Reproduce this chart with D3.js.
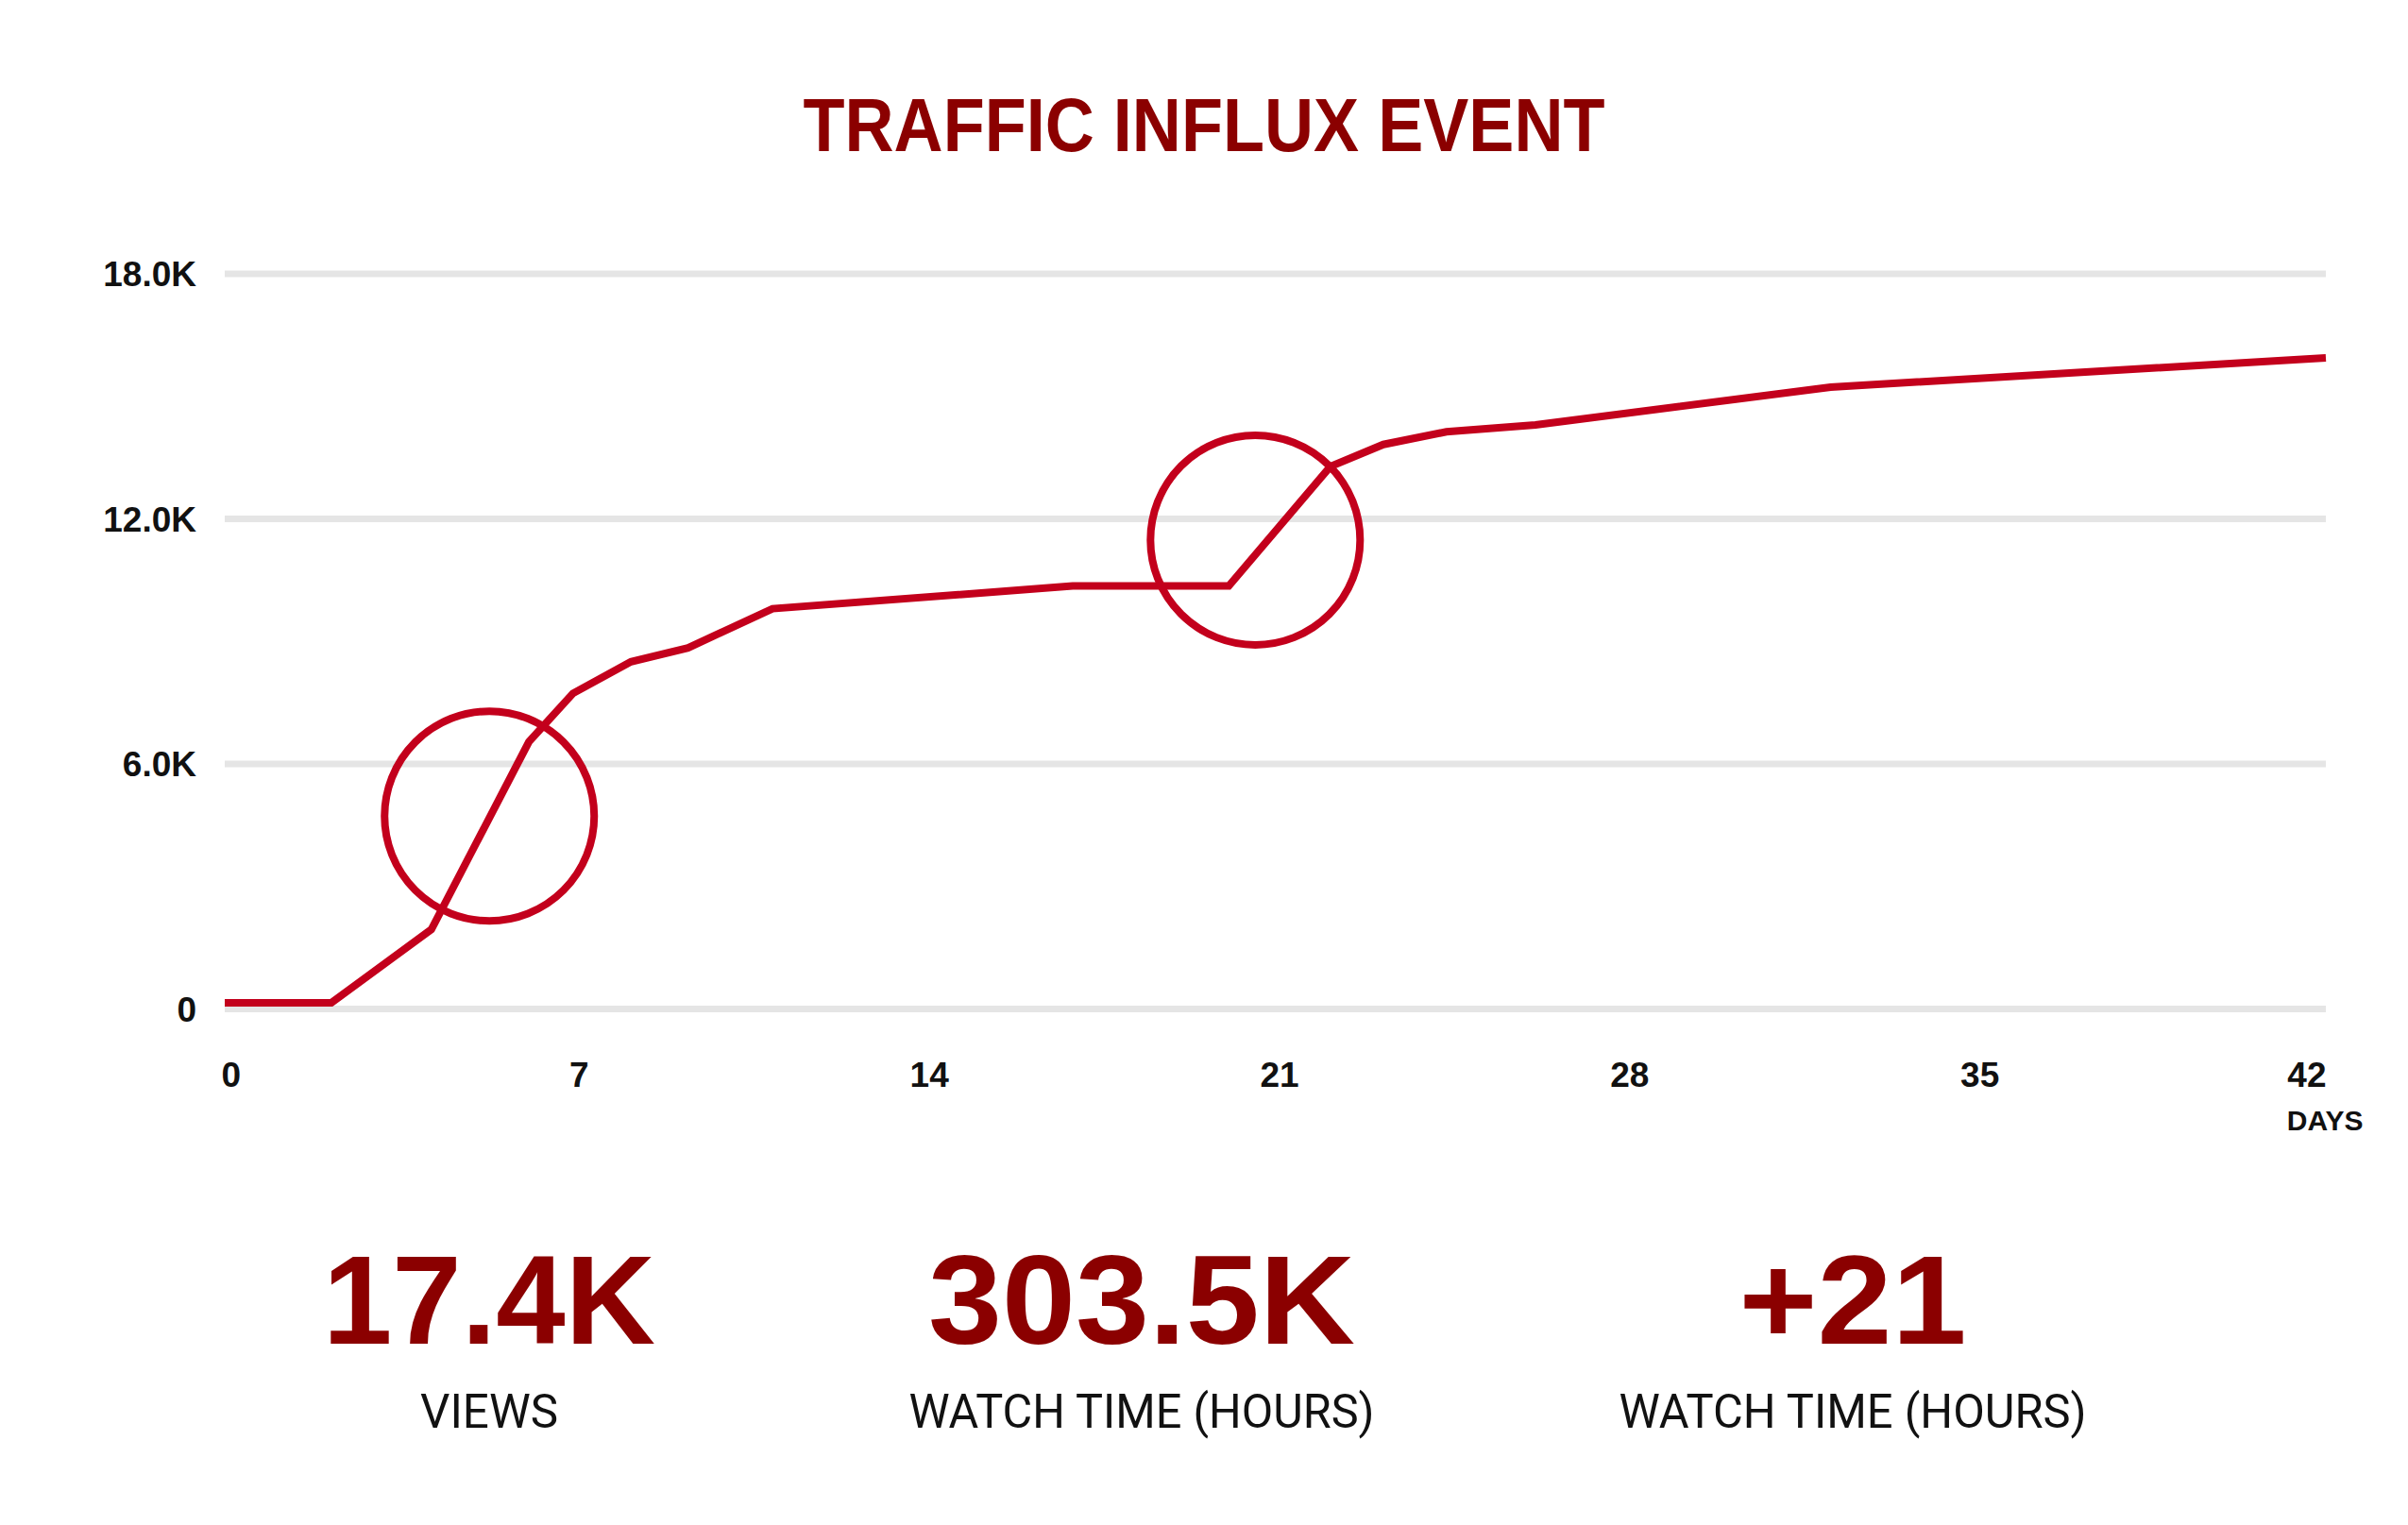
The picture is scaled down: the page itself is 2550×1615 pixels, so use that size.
<!DOCTYPE html>
<html>
<head>
<meta charset="utf-8">
<title>Traffic Influx Event</title>
<script src="https://cdn.jsdelivr.net/npm/d3@7"></script>
<style>
  html, body { margin: 0; padding: 0; background: #fff; }
  svg { display: block; }
  .tick text { font-family: "Liberation Sans", Arial, sans-serif; font-weight: 700; fill: #111; }
</style>
</head>
<body>
<svg id="chart" width="2550" height="1615"></svg>
<script>
// Cumulative views by day
const days = [0, 2.13, 4.13, 6.08, 6.96, 8.12, 9.26, 10.95, 16.95, 20.07, 22.1, 23.16, 24.42, 26.2, 32.1, 42];
const views = [140, 140, 1935, 6530, 7715, 8490, 8830, 9790, 10345, 10345, 13270, 13810, 14120, 14290, 15215, 15930];

// Highlight circles (day, views)
const highlightDays = [5.29, 20.6];
const highlightViews = [4710, 11470];

// Axis ticks
const yTicks = [0, 6000, 12000, 18000];
const xTicks = [0, 7, 14, 21, 28, 35, 42];

// Summary figures under the chart
const statValues = ["17.4K", "303.5K", "+21"];
const statLabels = ["VIEWS", "WATCH TIME (HOURS)", "WATCH TIME (HOURS)"];

const W = 2550, H = 1615;
const margin = { top: 289.5, right: 87, bottom: 547, left: 238 };
const innerW = W - margin.left - margin.right;
const innerH = H - margin.top - margin.bottom;

const lineColor = "#c3001c";
const darkRed = "#8b0000";

const svg = d3.select("#chart");

// Title
svg.append("text")
  .attr("x", W / 2)
  .attr("y", 160)
  .attr("text-anchor", "middle")
  .attr("textLength", 849)
  .attr("lengthAdjust", "spacingAndGlyphs")
  .style("font-family", "'Liberation Sans', Arial, sans-serif")
  .style("font-weight", 700)
  .style("font-size", "79px")
  .style("fill", darkRed)
  .text("TRAFFIC INFLUX EVENT");

const g = svg.append("g")
  .attr("transform", `translate(${margin.left},${margin.top})`);

const x = d3.scaleLinear().domain([0, 42]).range([0, innerW]);
const y = d3.scaleLinear().domain([0, 18000]).range([innerH, 0]);

// Y axis with gridlines
const yAxis = g.append("g")
  .call(d3.axisLeft(y)
    .tickValues(yTicks)
    .tickSize(-innerW)
    .tickPadding(30)
    .tickFormat(d => d === 0 ? "0" : d3.format(".1f")(d / 1000) + "K"));
yAxis.select(".domain").remove();
yAxis.selectAll(".tick line")
  .attr("stroke", "#e5e5e5")
  .attr("stroke-width", 7);
yAxis.selectAll(".tick text")
  .attr("dy", "0.36em")
  .style("font-size", "37px");

// X axis labels
const xAxis = g.append("g")
  .attr("transform", `translate(0,${innerH})`)
  .call(d3.axisBottom(x)
    .tickValues(xTicks)
    .tickSize(0)
    .tickPadding(57));
xAxis.select(".domain").remove();
xAxis.selectAll(".tick text")
  .style("font-size", "37px")
  .attr("text-anchor", (d, i) => i === 0 ? "start" : (i === xTicks.length - 1 ? "end" : "middle"))
  .attr("dx", (d, i) => i === 0 ? "-4" : (i === xTicks.length - 1 ? "0" : "4"));

// "DAYS" under the last tick
const lastTick = xAxis.selectAll(".tick text").filter((d, i) => i === xTicks.length - 1).node();
const lastBox = lastTick.getBBox();
const lastTickX = x(xTicks[xTicks.length - 1]);
g.append("text")
  .attr("x", lastTickX + lastBox.x)
  .attr("y", innerH + 129)
  .attr("text-anchor", "start")
  .style("font-family", "'Liberation Sans', Arial, sans-serif")
  .style("font-weight", 700)
  .style("font-size", "30px")
  .style("fill", "#111")
  .text("DAYS");

// Views line
const line = d3.line()
  .x((d, i) => x(days[i]))
  .y(d => y(d));

g.append("path")
  .datum(views)
  .attr("fill", "none")
  .attr("stroke", lineColor)
  .attr("stroke-width", 8)
  .attr("stroke-linejoin", "miter")
  .attr("d", line);

// Highlight circles
g.selectAll(".highlight")
  .data(highlightDays)
  .join("circle")
  .attr("class", "highlight")
  .attr("cx", d => x(d))
  .attr("cy", (d, i) => y(highlightViews[i]))
  .attr("r", 111)
  .attr("fill", "none")
  .attr("stroke", lineColor)
  .attr("stroke-width", 8);

// Summary figures
const statX = [518, 1209, 1962];
const statValueW = [352, 452, 241];
const statLabelW = [146, 493, 495];

svg.selectAll(".stat-value")
  .data(statValues)
  .join("text")
  .attr("class", "stat-value")
  .attr("x", (d, i) => statX[i])
  .attr("y", 1423)
  .attr("text-anchor", "middle")
  .attr("textLength", (d, i) => statValueW[i])
  .attr("lengthAdjust", "spacingAndGlyphs")
  .style("font-family", "'Liberation Sans', Arial, sans-serif")
  .style("font-weight", 700)
  .style("font-size", "134px")
  .style("fill", darkRed)
  .text(d => d);

svg.selectAll(".stat-label")
  .data(statLabels)
  .join("text")
  .attr("class", "stat-label")
  .attr("x", (d, i) => statX[i])
  .attr("y", 1512)
  .attr("text-anchor", "middle")
  .attr("textLength", (d, i) => statLabelW[i])
  .attr("lengthAdjust", "spacingAndGlyphs")
  .style("font-family", "Roboto, 'Liberation Sans', Arial, sans-serif")
  .style("font-weight", 400)
  .style("font-size", "50px")
  .style("fill", "#111")
  .text(d => d);
</script>
</body>
</html>
